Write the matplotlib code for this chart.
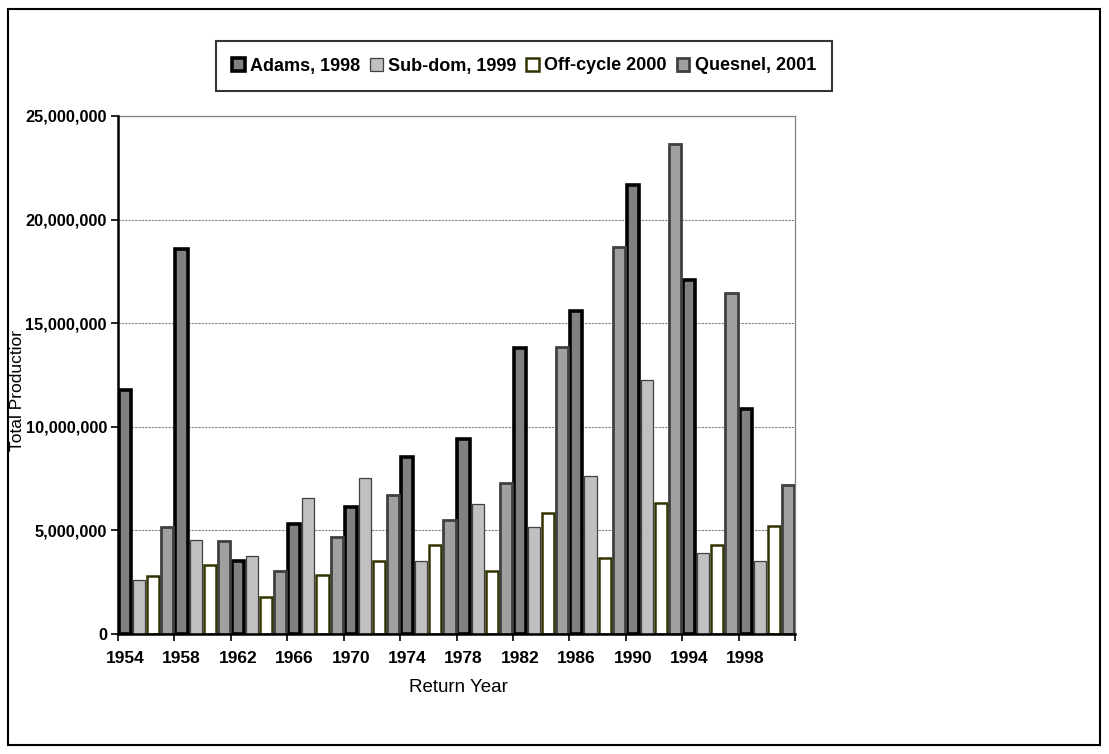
import matplotlib
matplotlib.use("Agg")
import matplotlib.pyplot as plt
from matplotlib.patches import Rectangle, Patch
from matplotlib.ticker import FuncFormatter, FixedLocator

plt.rcParams['font.family'] = ['Liberation Sans', 'DejaVu Sans']

# Return years 1954..2001; each cycle line occupies every 4th year
tick_years = [1954, 1958, 1962, 1966, 1970, 1974, 1978, 1982, 1986, 1990, 1994, 1998]
series_names = ["Adams, 1998", "Sub-dom, 1999", "Off-cycle 2000", "Quesnel, 2001"]

# Total production (millions) per 4-year group
adams    = [11.8, 18.6, 3.5, 5.3, 6.15, 8.55, 9.4, 13.8, 15.6, 21.65, 17.1, 10.85]
subdom   = [2.6, 4.55, 3.77, 6.57, 7.55, 3.5, 6.28, 5.15, 7.63, 12.27, 3.89, 3.52]
offcycle = [2.8, 3.33, 1.8, 2.85, 3.53, 4.29, 3.04, 5.82, 3.66, 6.34, 4.3, 5.19]
quesnel  = [5.16, 4.49, 3.04, 4.68, 6.7, 5.48, 7.29, 13.85, 18.66, 23.66, 16.46, 7.2]

styles = [
    dict(facecolor='#808080', edgecolor='#000000', linewidth=2.6),
    dict(facecolor='#c0c0c0', edgecolor='#404040', linewidth=0.9),
    dict(facecolor='#ffffff', edgecolor='#333300', linewidth=1.8),
    dict(facecolor='#a0a0a0', edgecolor='#404040', linewidth=2.0),
]

fig = plt.figure(figsize=(11.09, 7.54), dpi=100)
ax = fig.add_axes([118/1109, 1-634/754, 677/1109, 518/754])

width = 0.86
for s, vals in enumerate([adams, subdom, offcycle, quesnel]):
    xs = [4*k + s for k in range(len(vals))]
    ax.bar(xs, [v*1e6 for v in vals], width=width, zorder=3, **styles[s])

ax.set_xlim(-0.5, 47.5)
ax.set_ylim(0, 25e6)
ax.set_yticks([0, 5e6, 10e6, 15e6, 20e6, 25e6])
ax.yaxis.set_major_formatter(FuncFormatter(lambda v, p: f"{v:,.0f}"))
for lab in ax.get_yticklabels():
    lab.set_fontweight('bold')
    lab.set_fontsize(11.8)
ax.tick_params(axis='y', direction='out', length=5, width=1.2, pad=3)

ax.xaxis.set_major_locator(FixedLocator([-0.5 + 4*k for k in range(13)]))
ax.xaxis.set_major_formatter(FuncFormatter(lambda v, p: ""))
ax.xaxis.set_minor_locator(FixedLocator([4*k for k in range(len(tick_years))]))
ax.set_xticklabels([str(y) for y in tick_years], minor=True, fontweight='bold', fontsize=12.5)
ax.tick_params(axis='x', which='major', direction='out', length=5, width=1.2)
ax.tick_params(axis='x', which='minor', length=0, pad=12)

ax.grid(axis='y', color='#808080', linestyle=(0, (2, 1)), linewidth=0.8, zorder=0)
for side in ['left', 'bottom']:
    ax.spines[side].set_color('black')
    ax.spines[side].set_linewidth(1.8)
    ax.spines[side].set_zorder(4)
for side in ['top', 'right']:
    ax.spines[side].set_color('#808080')
    ax.spines[side].set_linewidth(0.9)

ax.set_ylabel("Total Productior", fontsize=12.5)
ax.yaxis.set_label_coords(-0.138, 0.471)
fig.text(458/1109, 1-688/754, "Return Year", ha='center', va='center', fontsize=13.5)

handles = [Patch(label=n, **st) for n, st in zip(series_names, styles)]
leg = fig.legend(handles=handles, loc='center', bbox_to_anchor=(524/1109, 1-66/754),
                 ncol=4, frameon=True, fancybox=False, prop=dict(weight='bold', size=13),
                 handlelength=0.7, handleheight=0.7, handletextpad=0.3, columnspacing=0.55,
                 borderpad=0.9, edgecolor='black')
leg.get_frame().set_linewidth(1.5)

fig.patches.append(Rectangle((8/1109, 9/754), 1092/1109, 736/754, fill=False,
                             edgecolor='black', linewidth=1.5, transform=fig.transFigure))

fig.savefig("out.png", dpi=100)
